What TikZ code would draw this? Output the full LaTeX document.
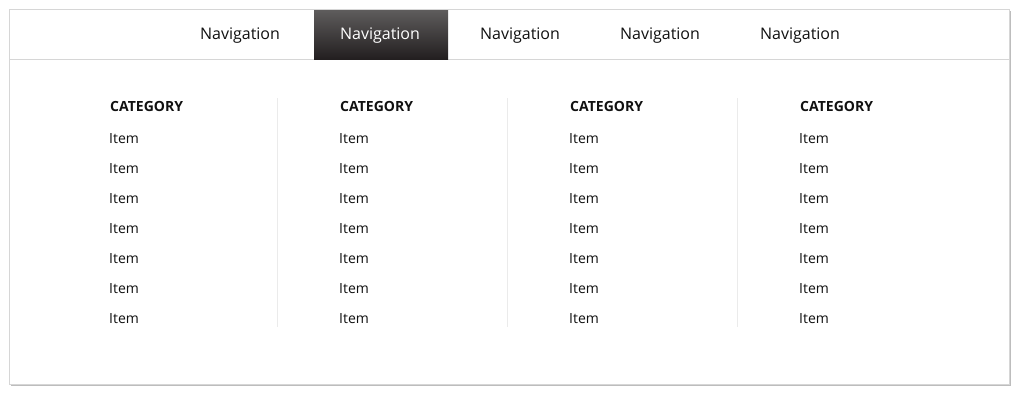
\documentclass[tikz,border=0pt]{standalone}
\usepackage{fontspec}
\setmainfont{Open Sans}
\usetikzlibrary{positioning}
\definecolor{frameC}{HTML}{D6D6D6}
\definecolor{shadowC}{HTML}{BDBDBD}
\definecolor{sepC}{HTML}{EBEBEB}
\definecolor{tabTop}{HTML}{5E5C5C}
\definecolor{tabBot}{HTML}{231F20}
\definecolor{txtC}{HTML}{111111}
\tikzset{
  x=1pt, y=-1pt,
  navtext/.style={font=\fontsize{16}{18}\selectfont, text=txtC, inner sep=0pt, anchor=center},
  cattext/.style={font=\fontsize{14}{16}\selectfont\bfseries, text=txtC, inner sep=0pt, anchor=west},
  itemtext/.style={font=\fontsize{14}{16}\selectfont, text=txtC, inner sep=0pt, anchor=west},
  sepline/.style={draw=sepC, line width=1pt},
}
\begin{document}
\begin{tikzpicture}
\useasboundingbox (0,0) rectangle (1022,402);
\fill[white] (0,0) rectangle (1022,402);
% shadow
\fill[shadowC] (11,11) rectangle (1011,386);
\node[draw=frameC, fill=white, line width=1pt, minimum width=1000pt, minimum height=375pt, inner sep=0pt, anchor=north west] (panel) at (9,9) {};
% nav bar bottom line
\draw[frameC, line width=1pt] (9.5,59.5) -- (1008.5,59.5);
% active tab
\shade[top color=tabTop, bottom color=tabBot] (314,10) rectangle (448,59);
\node[navtext] (n1) at (240,36) {Navigation};
\node[navtext, text=white] (n2) at (380,36) {Navigation};
\node[navtext] (n3) at (520,36) {Navigation};
\node[navtext] (n4) at (660,36) {Navigation};
\node[navtext] (n5) at (800,36) {Navigation};
% columns
\foreach \c/\x in {1/110,2/340,3/570,4/800}{
  \node[cattext] (cat\c) at (\x,106) {CATEGORY};
  \foreach \i in {1,...,7}{
    \node[itemtext] (it\c\i) at (\x-1,108.5+30*\i) {Item};
  }
}
\foreach \s/\x in {1/277.5,2/507.5,3/737.5}{
  \draw[sepline] (\x,98) -- (\x,327);
}
\end{tikzpicture}
\end{document}
